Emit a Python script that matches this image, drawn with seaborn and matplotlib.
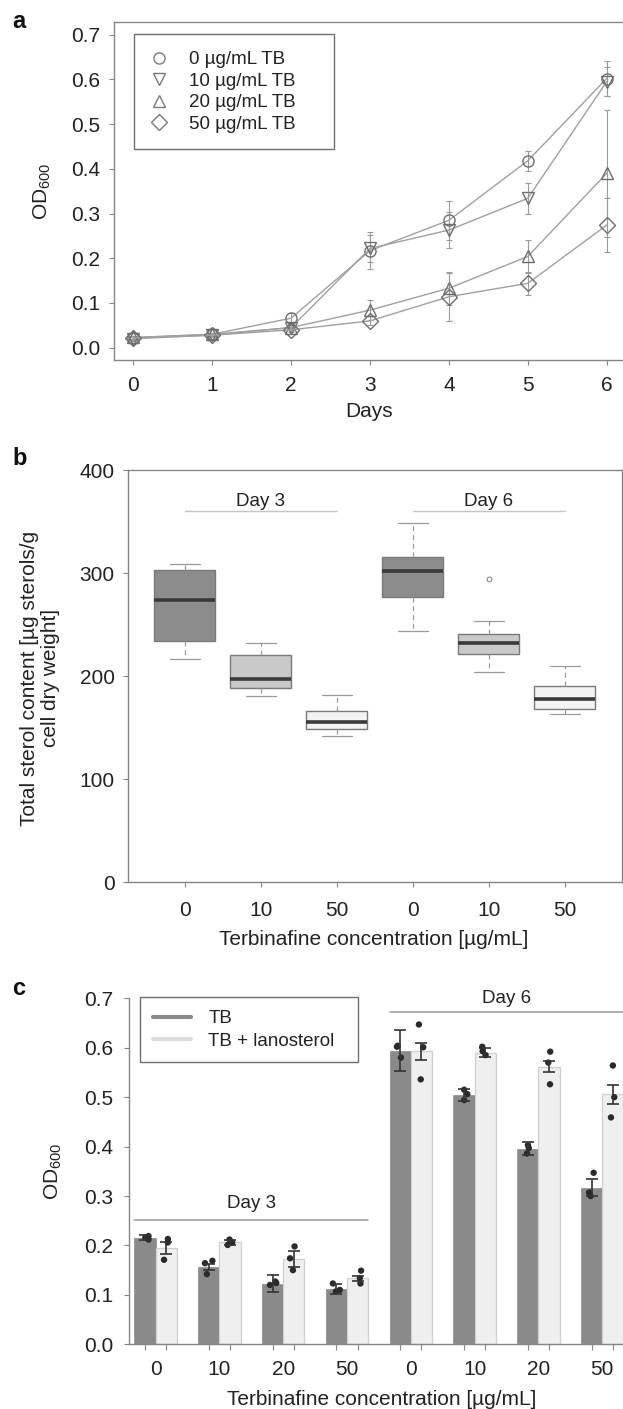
import numpy as np
import pandas as pd
import matplotlib
matplotlib.use("Agg")
import matplotlib.pyplot as plt
from matplotlib.lines import Line2D
import seaborn as sns

# ---- panel a: growth curves (mean and sd per day) ----
days = [0, 1, 2, 3, 4, 5, 6]
doses_a = ["0", "10", "20", "50"]
od_0 = [0.022, 0.030, 0.066, 0.217, 0.285, 0.418, 0.602]
od_10 = [0.020, 0.028, 0.045, 0.222, 0.263, 0.334, 0.595]
od_20 = [0.023, 0.030, 0.045, 0.084, 0.133, 0.204, 0.390]
od_50 = [0.022, 0.028, 0.040, 0.060, 0.114, 0.144, 0.274]
sd_0 = [0.004, 0.004, 0.012, 0.042, 0.044, 0.022, 0.040]
sd_10 = [0.004, 0.004, 0.006, 0.031, 0.041, 0.035, 0.033]
sd_20 = [0.004, 0.004, 0.006, 0.023, 0.037, 0.036, 0.142]
sd_50 = [0.004, 0.004, 0.005, 0.010, 0.054, 0.026, 0.061]

# ---- panel b: total sterol content replicates ----
groups_b = ["d3_0", "d3_10", "d3_50", "d6_0", "d6_10", "d6_50"]
labels_b = ["0", "10", "50", "0", "10", "50"]
ster_d3_0 = [216.8, 234.3, 273.5, 303.2, 309.0]
ster_d3_10 = [180.6, 188.3, 197.7, 220.4, 232.4]
ster_d3_50 = [142.4, 149.2, 155.7, 166.0, 181.6]
ster_d6_0 = [244.0, 276.7, 301.6, 315.2, 348.5]
ster_d6_10 = [204.2, 215.0, 221.7, 227.0, 231.7, 236.0, 240.8, 253.7, 294.5]
ster_d6_50 = [163.4, 168.0, 177.7, 190.0, 209.4]

# ---- panel c: OD600 with / without lanosterol ----
conc_c = ["0", "10", "20", "50"]
treats = ["TB", "TB + lanosterol"]
bar_tb_d3 = [0.216, 0.157, 0.123, 0.112]
bar_lan_d3 = [0.195, 0.206, 0.173, 0.134]
bar_tb_d6 = [0.594, 0.504, 0.396, 0.317]
bar_lan_d6 = [0.593, 0.590, 0.562, 0.506]
err_tb_d3 = [0.006, 0.006, 0.017, 0.010]
err_lan_d3 = [0.012, 0.005, 0.016, 0.005]
err_tb_d6 = [0.042, 0.012, 0.013, 0.017]
err_lan_d6 = [0.017, 0.009, 0.012, 0.019]
rep_tb_d3 = [[0.219, 0.216, 0.212], [0.169, 0.164, 0.142], [0.127, 0.124, 0.120], [0.123, 0.110, 0.107]]
rep_lan_d3 = [[0.213, 0.206, 0.171], [0.212, 0.206, 0.201], [0.198, 0.174, 0.150], [0.149, 0.134, 0.123]]
rep_tb_d6 = [[0.604, 0.602, 0.580], [0.515, 0.506, 0.494], [0.403, 0.397, 0.386], [0.347, 0.307, 0.300]]
rep_lan_d6 = [[0.647, 0.601, 0.536], [0.602, 0.593, 0.585], [0.592, 0.570, 0.526], [0.564, 0.500, 0.459]]

sns.set_style("white")
plt.rcParams["font.family"] = ["Liberation Sans", "DejaVu Sans"]
plt.rcParams["mathtext.fontset"] = "custom"
plt.rcParams["mathtext.rm"] = "Liberation Sans"
plt.rcParams["mathtext.it"] = "Liberation Sans:italic"
plt.rcParams["mathtext.bf"] = "Liberation Sans:bold"

W, H = 623, 1409
fig = plt.figure(figsize=(W / 100, H / 100), dpi=100)


def px_axes(left, top, right, bottom):
    return fig.add_axes([left / W, 1 - bottom / H, (right - left) / W, (bottom - top) / H])


def px_text(x, y, s, **kw):
    fig.text(x / W, 1 - y / H, s, **kw)


TXT = "#222222"
SPINE = "#858585"


def style_ticks(ax, xpad, ypad):
    ax.tick_params(axis="both", direction="out", length=3.6, width=0.8, color=SPINE,
                   labelsize=15, labelcolor=TXT)
    ax.tick_params(axis="x", pad=xpad, bottom=True)
    ax.tick_params(axis="y", pad=ypad, left=True)
    for sp in ax.spines.values():
        sp.set_color(SPINE)
        sp.set_linewidth(1.0)


# ================= panel a =================
ax = px_axes(114.4, 22, 625.6, 360)
rows = []
for dose, od in zip(doses_a, [od_0, od_10, od_20, od_50]):
    for d, v in zip(days, od):
        rows.append({"day": d, "od": v, "dose": dose})
df_a = pd.DataFrame(rows)
markers_a = {"0": "o", "10": "v", "20": "^", "50": "D"}
for od, sd in zip([od_0, od_10, od_20, od_50], [sd_0, sd_10, sd_20, sd_50]):
    ax.errorbar(days, od, yerr=sd, fmt="none", ecolor="#9a9a9a", elinewidth=0.8,
                capsize=2.2, capthick=0.8, zorder=1)
sns.lineplot(data=df_a, x="day", y="od", style="dose", style_order=doses_a,
             markers=markers_a, dashes=False, color="#a0a0a0", linewidth=1.0,
             markersize=8, markerfacecolor="none", markeredgecolor="#6e6e6e",
             markeredgewidth=1.0, errorbar=None, legend=False, ax=ax, zorder=2)
ax.set_xlim(-0.24, 6.24)
ax.set_ylim(-0.0275, 0.7284)
ax.set_xticks(days)
ax.set_yticks(np.arange(0, 0.71, 0.1))
ax.set_yticklabels([f"{v:.1f}" for v in np.arange(0, 0.71, 0.1)])
ax.set_xlabel("")
ax.set_ylabel("")
style_ticks(ax, 7.6, 6.4)
ax.spines["right"].set_visible(False)
handles = [Line2D([], [], ls="none", marker=markers_a[d], ms=8, mfc="none",
                  mec="#7a7a7a", mew=1.0) for d in doses_a]
leg = ax.legend(handles, [f"{d} µg/mL TB" for d in doses_a], loc="upper left",
                bbox_to_anchor=((133.5 - 114.4) / 511.2, (360 - 163.3) / 338,
                                (333.7 - 133.5) / 511.2, (163.3 - 34.3) / 338),
                mode="expand", borderaxespad=0, fontsize=13.5, frameon=True,
                fancybox=False, edgecolor="#6e6e6e", framealpha=1,
                borderpad=0.9, labelspacing=0.23, handlelength=0.92,
                handletextpad=1.14)
leg.get_frame().set_linewidth(1.0)
for t in leg.get_texts():
    t.set_color(TXT)
px_text(42.8, 191.7, r"OD$_{600}$", rotation=90, ha="center", va="center",
        fontsize=15, color=TXT)
px_text(369.5, 417.3, "Days", ha="center", va="baseline", fontsize=15, color=TXT)

# ================= panel b =================
ax = px_axes(127.9, 470, 621.8, 882.3)
rows = []
for g, vals in zip(groups_b, [ster_d3_0, ster_d3_10, ster_d3_50,
                              ster_d6_0, ster_d6_10, ster_d6_50]):
    for v in vals:
        rows.append({"group": g, "sterol": v, "dose": g.split("_")[1]})
df_b = pd.DataFrame(rows)
pal_b = {"0": "#8c8c8c", "10": "#c9c9c9", "50": "#f3f3f3"}
sns.boxplot(data=df_b, x="group", y="sterol", hue="dose", order=groups_b,
            hue_order=["0", "10", "50"], palette=pal_b, dodge=False, width=0.8,
            linecolor="#7a7a7a", linewidth=1.0, legend=False, ax=ax,
            medianprops=dict(color="#3a3a3a", linewidth=2.6),
            whiskerprops=dict(color="#9a9a9a", linestyle=(0, (4, 3)), linewidth=0.9),
            capprops=dict(color="#9a9a9a", linewidth=0.9),
            flierprops=dict(marker="o", markersize=3.5, markerfacecolor="none",
                            markeredgecolor="#8a8a8a", markeredgewidth=0.8))
ax.set_xlim(-0.75, 5.75)
ax.set_ylim(0, 400)
ax.set_yticks([0, 100, 200, 300, 400])
ax.set_xticks(range(len(groups_b)))
ax.set_xticklabels(labels_b)
ax.set_xlabel("")
ax.set_ylabel("")
style_ticks(ax, 10.0, 6.0)
for x0, x1, lab in [(0, 2, "Day 3"), (3, 5, "Day 6")]:
    ax.plot([x0, x1], [360.2, 360.2], color="#c4c4c4", lw=1.0)
    ax.text((x0 + x1) / 2, 365.0, lab, ha="center", va="baseline", fontsize=13.5,
            color=TXT)
px_text(39.7, 678.3, "Total sterol content [µg sterols/g\ncell dry weight]",
        rotation=90, ha="center", va="center", multialignment="center",
        fontsize=15, color=TXT, linespacing=1.12)
px_text(373.5, 945.0, "Terbinafine concentration [µg/mL]", ha="center",
        va="baseline", fontsize=15, color=TXT)

# ================= panel c =================
ax = px_axes(129.1, 988.4, 628.7, 1344.3)
groups_c = [f"d3_{c}" for c in conc_c] + [f"d6_{c}" for c in conc_c]
bar_rows, rep_rows = [], []
means = {"TB": bar_tb_d3 + bar_tb_d6, "TB + lanosterol": bar_lan_d3 + bar_lan_d6}
reps = {"TB": rep_tb_d3 + rep_tb_d6, "TB + lanosterol": rep_lan_d3 + rep_lan_d6}
for tr in treats:
    for g, m, rr in zip(groups_c, means[tr], reps[tr]):
        bar_rows.append({"group": g, "od": m, "treat": tr})
        for r in rr:
            rep_rows.append({"group": g, "od": r, "treat": tr})
df_bar = pd.DataFrame(bar_rows)
df_rep = pd.DataFrame(rep_rows)
errs = []
for a, b in zip(err_tb_d3 + err_tb_d6, err_lan_d3 + err_lan_d6):
    errs += [a, b]

pal_c = {"TB": "#8a8a8a", "TB + lanosterol": "#efefef"}
bar_w = 0.667
sns.barplot(data=df_bar, x="group", y="od", hue="treat", order=groups_c,
            hue_order=treats, palette=pal_c, width=bar_w, errorbar=None,
            legend=False, ax=ax, zorder=1)
patches = sorted(ax.patches, key=lambda p: p.get_x())
for p in patches:
    fc = p.get_facecolor()
    if fc[0] > 0.8:
        p.set_edgecolor("#cfcfcf")
        p.set_linewidth(0.9)
    else:
        p.set_edgecolor(fc)
        p.set_linewidth(0.5)
xs = [p.get_x() + p.get_width() / 2 for p in patches]
hs = [p.get_height() for p in patches]

np.random.seed(4)
n0 = len(ax.collections)
sns.stripplot(data=df_rep, x="group", y="od", hue="treat", order=groups_c,
              hue_order=treats, palette={t: "#2a2a2a" for t in treats},
              dodge=True, jitter=0.12, size=4.6, linewidth=0, legend=False,
              ax=ax, zorder=3)
# move the dodged dots onto the narrower bars
shift = 0.2 - bar_w / 4
for coll in ax.collections[n0:]:
    offs = coll.get_offsets()
    if len(offs) == 0:
        continue
    offs = np.array(offs)
    frac = offs[:, 0] - np.round(offs[:, 0])
    offs[:, 0] = offs[:, 0] + np.where(frac < 0, shift, -shift)
    coll.set_offsets(offs)
ax.errorbar(xs, hs, yerr=errs, fmt="none", ecolor="#333333", elinewidth=1.2,
            capsize=4, capthick=1.2, zorder=4)

ax.set_xlim(-0.415, 7.415)
ax.set_ylim(0, 0.72)
ax.set_yticks(np.arange(0, 0.71, 0.1))
ax.set_yticklabels([f"{v:.1f}" for v in np.arange(0, 0.71, 0.1)])
ax.set_xticks(range(len(groups_c)))
ax.set_xticklabels(conc_c + conc_c)
ax.set_xticks(xs, minor=True)
ax.set_xlabel("")
ax.set_ylabel("")
style_ticks(ax, 11.3, 7.8)
ax.tick_params(axis="x", which="major", length=0)
ax.tick_params(axis="x", which="minor", direction="out", length=4, width=0.8,
               color=SPINE, bottom=True)
ax.spines["top"].set_visible(False)
ax.spines["right"].set_visible(False)
ax.spines["left"].set_bounds(0, 0.7)
ax.plot([-bar_w / 2, 3 + bar_w / 2], [0.2515, 0.2515], color="#9a9a9a", lw=1.1)
ax.plot([4 - bar_w / 2, 7.5], [0.673, 0.673], color="#9a9a9a", lw=1.1, clip_on=False)
ax.text(1.5, 0.2764, "Day 3", ha="center", va="baseline", fontsize=13.5, color=TXT)
ax.text(5.5, 0.690, "Day 6", ha="center", va="baseline", fontsize=13.5, color=TXT)
lh = [Line2D([], [], color=pal_c["TB"], lw=3.0, solid_capstyle="round"),
      Line2D([], [], color="#dcdcdc", lw=3.0, solid_capstyle="round")]
leg = ax.legend(lh, treats, loc="upper left",
                bbox_to_anchor=((140.2 - 129.1) / 499.6, (1344.3 - 1069.3) / 355.9,
                                (357.6 - 140.2) / 499.6, (1069.3 - 997.3) / 355.9),
                mode="expand", borderaxespad=0, fontsize=13.5, frameon=True,
                fancybox=False, edgecolor="#6e6e6e", framealpha=1,
                borderpad=0.69, labelspacing=0.27, handlelength=2.0,
                handletextpad=0.95)
leg.get_frame().set_linewidth(1.0)
for t in leg.get_texts():
    t.set_color(TXT)
px_text(53.6, 1171.7, r"OD$_{600}$", rotation=90, ha="center", va="center",
        fontsize=15, color=TXT)
px_text(381.4, 1405.0, "Terbinafine concentration [µg/mL]", ha="center",
        va="baseline", fontsize=15, color=TXT)

# panel letters
px_text(12, 28, "a", fontsize=17, fontweight="bold", va="baseline", color="#111")
px_text(12, 465, "b", fontsize=17, fontweight="bold", va="baseline", color="#111")
px_text(12, 995, "c", fontsize=17, fontweight="bold", va="baseline", color="#111")

fig.savefig("out.png", dpi=100)
